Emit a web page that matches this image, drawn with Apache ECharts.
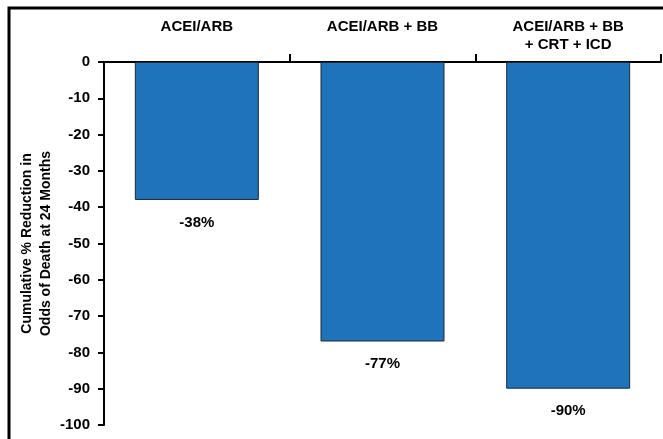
<!DOCTYPE html>
<html>
<head>
<meta charset="utf-8">
<script src="https://cdn.jsdelivr.net/npm/echarts@6/dist/echarts.min.js"></script>
<style>html,body{margin:0;padding:0;background:#fff;}#c{width:663px;height:439px;}</style>
</head>
<body>
<div id="c"></div>
<script>
const categories = ["ACEI/ARB", "ACEI/ARB + BB", "ACEI/ARB + BB\n+ CRT + ICD"];
const values = [-38, -77, -90];
const yAxisTitle = "Cumulative % Reduction in\nOdds of Death at 24 Months";

const FONT = "'Liberation Sans', Arial, sans-serif";
const chart = echarts.init(document.getElementById('c'), null, {renderer: 'canvas'});
chart.setOption({
  animation: false,
  backgroundColor: '#fff',
  grid: {left: 104, right: 2, top: 62, bottom: 14, containLabel: false},
  graphic: [{
    type: 'polyline',
    shape: {points: [[9, 445], [9, 8], [670, 8]]},
    style: {stroke: '#000', lineWidth: 3, fill: null}
  }],
  xAxis: {
    type: 'category',
    position: 'top',
    data: categories,
    axisLine: {show: true, lineStyle: {color: '#000', width: 2}},
    axisTick: {show: true, interval: (i) => i !== 0, alignWithLabel: false, inside: false, length: 8, lineStyle: {color: '#000', width: 2}},
    axisLabel: {
      color: '#000', fontWeight: 'bold', fontSize: 15, fontFamily: FONT,
      lineHeight: 18, margin: 8, interval: 0,
      formatter: v => v.indexOf('\n') >= 0 ? v : v + '\n '
    }
  },
  yAxis: {
    type: 'value',
    min: -100, max: 0, interval: 10,
    name: yAxisTitle,
    nameLocation: 'middle',
    nameGap: 48,
    nameMoveOverlap: false,
    nameTextStyle: {color: '#000', fontWeight: 'bold', fontSize: 14, fontFamily: FONT, lineHeight: 19},
    axisLine: {show: true, lineStyle: {color: '#000', width: 2}},
    axisTick: {show: true, length: 6, lineStyle: {color: '#000', width: 2}},
    splitLine: {show: false},
    axisLabel: {color: '#000', fontWeight: 'bold', fontSize: 15, fontFamily: FONT, margin: 14}
  },
  series: [{
    type: 'bar',
    data: values,
    barWidth: 124,
    itemStyle: {color: '#1f73bb', borderColor: '#1c2a38', borderWidth: 1},
    label: {
      show: true, position: 'bottom', distance: 15,
      formatter: p => p.value + '%',
      color: '#000', fontWeight: 'bold', fontSize: 15, fontFamily: FONT
    }
  }]
});
</script>
</body>
</html>
